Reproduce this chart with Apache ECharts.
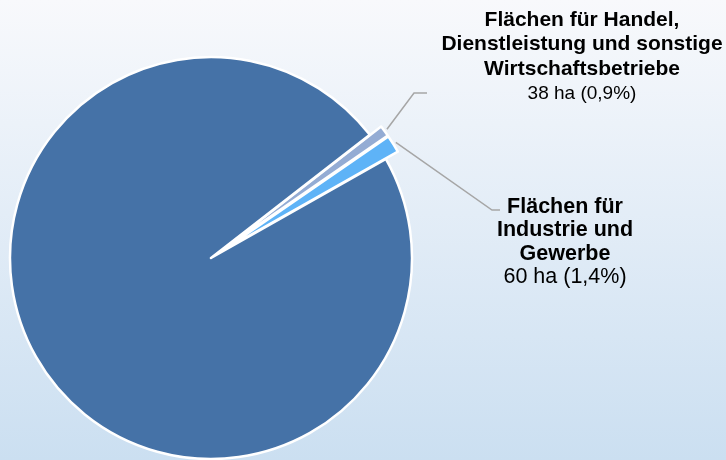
<!DOCTYPE html>
<html>
<head>
<meta charset="utf-8">
<script src="https://cdn.jsdelivr.net/npm/echarts@6/dist/echarts.min.js"></script>
<style>
html,body{margin:0;padding:0;}
#chart{width:726px;height:460px;}
</style>
</head>
<body>
<div id="chart"></div>
<script>
//Kategorien (im Uhrzeigersinn ab Startwinkel)
var names = ['Flächen für Handel,\nDienstleistung und sonstige\nWirtschaftsbetriebe', 'Flächen für\nIndustrie und\nGewerbe', 'Übrige Flächen'];
//Flächen in ha
var values = [38, 60, 4152];
//Farben
var colors = ['#94acd4', '#5eb3f7', '#4572a7'];
//herausgezogene Segmente mit Beschriftung
var exploded = [true, true, false];

//Geometrie des Kreises
var cx = 211, cy = 258, radius = 201, startAngle = 37.8, offset = 14;

//Beschriftungsblöcke: Mitte x, erste Zeile y, Zeilenabstand, Schriftgrößen, Knickpunkte der Linie
var labelBoxes = [
    {x: 582, y: 20, step: 24.7, bold: 21, normal: 19, elbow: [[414, 93], [427, 93]]},
    {x: 565, y: 207, step: 23.5, bold: 21.5, normal: 21.5, elbow: [[492, 210], [500, 210]]}
];

var total = 0;
for (var i = 0; i < values.length; i++) {
    total += values[i];
}

var pieData = [];
for (var i = 0; i < values.length; i++) {
    pieData.push({
        name: names[i],
        value: values[i],
        selected: exploded[i],
        itemStyle: {color: colors[i]}
    });
}

//Beschriftungen und Führungslinien
var graphics = [];
var acc = 0;
for (var i = 0; i < values.length; i++) {
    var mid = startAngle - (acc + values[i] / 2) / total * 360;
    acc += values[i];
    if (!exploded[i]) continue;
    var box = labelBoxes[i];
    var rad = mid * Math.PI / 180;
    var r0 = radius + offset + 3;
    var p0 = [cx + r0 * Math.cos(rad), cy - r0 * Math.sin(rad)];
    graphics.push({
        type: 'polyline',
        z: 10,
        shape: {points: [p0, box.elbow[0], box.elbow[1]]},
        style: {stroke: '#a6a6a6', lineWidth: 1.5, fill: null}
    });
    var lines = names[i].split('\n');
    var pct = (values[i] / total * 100).toFixed(1).replace('.', ',');
    lines.push(values[i] + ' ha (' + pct + '%)');
    for (var k = 0; k < lines.length; k++) {
        var isValue = k === lines.length - 1;
        graphics.push({
            type: 'text',
            z: 10,
            x: box.x,
            y: box.y + k * box.step,
            style: {
                text: lines[k],
                fill: '#000000',
                font: (isValue ? 'normal ' + box.normal : 'bold ' + box.bold) + 'px "Liberation Sans", Arial, sans-serif',
                textAlign: 'center',
                textVerticalAlign: 'middle'
            }
        });
    }
}

var myChart = echarts.init(document.getElementById('chart'));

var option = {
    backgroundColor: {
        type: 'linear', x: 0, y: 0, x2: 0, y2: 1,
        colorStops: [
            {offset: 0, color: '#f8f9fc'},
            {offset: 1, color: '#cbdff1'}
        ]
    },
    animation: false,
    graphic: graphics,
    series: [{
        type: 'pie',
        center: [cx, cy],
        radius: [0, radius],
        startAngle: startAngle,
        clockwise: true,
        selectedMode: 'multiple',
        selectedOffset: offset,
        emphasis: {disabled: true},
        itemStyle: {borderColor: '#ffffff', borderWidth: 2.5},
        label: {show: false},
        labelLine: {show: false},
        data: pieData
    }]
};

myChart.setOption(option);
</script>
</body>
</html>
